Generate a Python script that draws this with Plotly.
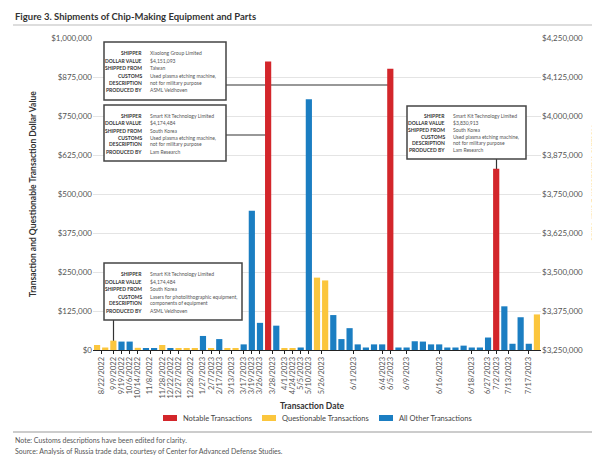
import plotly.graph_objects as go

# ---------------- data ----------------
dates = (["8/22/2022"] * 2 + ["9/9/2022", "9/19/2022", "10/6/2022", "10/14/2022"] + ["11/8/2022"] * 2 +
         ["11/28/2022", "12/22/2022", "12/27/2022"] + ["12/28/2022"] * 2 +
         ["1/27/2023", "2/7/2023", "2/17/2023"] + ["3/13/2023"] * 2 +
         ["3/17/2023", "3/19/2023", "3/26/2023"] + ["3/28/2023"] * 2 +
         ["4/1/2023", "4/24/2023", "5/5/2023", "5/10/2023"] + ["5/26/2023"] * 2 +
         ["6/1/2023"] * 6 + ["6/4/2023", "6/5/2023"] + ["6/9/2023"] * 3 + ["6/16/2023"] * 5 +
         ["6/18/2023"] * 3 + ["6/27/2023", "7/2/2023"] + ["7/13/2023"] * 2 + ["7/17/2023"] * 3)

types = (["Q", "Q", "Q", "O", "O", "Q", "O", "O", "Q", "O", "Q", "Q", "Q", "O", "Q", "O",
          "Q", "Q", "O", "O", "O", "N", "O", "Q", "Q", "O", "O", "Q", "Q"] +
         ["O"] * 7 + ["N"] + ["O"] * 12 + ["N"] + ["O"] * 4 + ["Q"])

values = [16000, 8000, 30000, 27000, 27000, 7000, 6000, 6000, 16000, 6000,
          5000, 5000, 5000, 45000, 6000, 35000, 5000, 5000, 18000, 446000,
          87000, 4174484, 78000, 5000, 5000, 8000, 804000, 232000, 223000, 112000,
          35000, 70000, 18000, 8000, 18000, 18000, 4151093, 8000, 8000, 28000,
          27000, 18000, 18000, 8000, 8000, 14000, 8000, 8000, 40000, 3830913,
          140000, 20000, 105000, 20000, 114000]

left_ticks = [0, 125000, 250000, 375000, 500000, 625000, 750000, 875000, 1000000]
right_ticks = [3250000, 3375000, 3500000, 3625000, 3750000, 3875000, 4000000, 4125000, 4250000]

series_names = {"N": "Notable Transactions", "Q": "Questionable Transactions", "O": "All Other Transactions"}
series_colors = {"N": "#D3262B", "Q": "#FBC63D", "O": "#1B7EC2"}

boxes = [
    dict(px=96, py=34, w=122, h=58,
         rows=[("SHIPPER", "Xiaolong Group Limited"), ("DOLLAR VALUE", "$4,151,093"),
               ("SHIPPED FROM", "Taiwan"), ("CUSTOMS", "Used plasma etching machine,"),
               ("DESCRIPTION", "not for military purpose"), ("PRODUCED BY", "ASML Veldhoven")]),
    dict(px=96, py=97, w=122, h=56,
         rows=[("SHIPPER", "Smart Kit Technology Limited"), ("DOLLAR VALUE", "$4,174,484"),
               ("SHIPPED FROM", "South Korea"), ("CUSTOMS", "Used plasma etching machine,"),
               ("DESCRIPTION", "not for military purpose"), ("PRODUCED BY", "Lam Research")]),
    dict(px=399, py=98, w=119, h=53,
         rows=[("SHIPPER", "Smart Kit Technology Limited"), ("DOLLAR VALUE", "$3,830,913"),
               ("SHIPPED FROM", "South Korea"), ("CUSTOMS", "Used plasma etching machine,"),
               ("DESCRIPTION", "not for military purpose"), ("PRODUCED BY", "Lam Research")]),
    dict(px=96, py=255, w=138, h=57,
         rows=[("SHIPPER", "Smart Kit Technology Limited"), ("DOLLAR VALUE", "$4,174,484"),
               ("SHIPPED FROM", "South Korea"), ("CUSTOMS", "Lasers for photolithographic equipment,"),
               ("DESCRIPTION", "components of equipment"), ("PRODUCED BY", "ASML Veldhoven")]),
]

# ---------------- geometry helpers ----------------
L, R, T, B = 85, 67, 30, 113
W, H = 600, 455
PW, PH = W - L - R, H - T - B


def fx(px):
    return (px - L) / PW


def fy(py):
    return (H - B - py) / PH


def money(v):
    return "$" + format(v, ",d")


FONT = "Lato, Open Sans, sans-serif"

fig = go.Figure()

idx = list(range(len(values)))
for t in ["N", "Q", "O"]:
    xs = [i for i in idx if types[i] == t]
    ys = [values[i] for i in idx if types[i] == t]
    fig.add_trace(go.Bar(
        x=xs, y=ys, name=series_names[t], marker_color=series_colors[t],
        marker_line_width=0, width=0.76, yaxis="y2" if t == "N" else "y",
        showlegend=False))

# tick positions: center of each run of identical dates
tickvals, ticktext = [], []
start = 0
for i in range(1, len(dates) + 1):
    if i == len(dates) or dates[i] != dates[start]:
        tickvals.append((start + i - 1) / 2)
        ticktext.append(dates[start])
        start = i

shapes = []
annotations = []

# annotation boxes
for b in boxes:
    shapes.append(dict(type="rect", xref="paper", yref="paper",
                       x0=fx(b["px"]), x1=fx(b["px"] + b["w"]),
                       y0=fy(b["py"]), y1=fy(b["py"] + b["h"]),
                       line=dict(color="#444", width=1.5), fillcolor="white", layer="above"))
    offs = [10, 17.5, 25, 32.5, 39, 46.5]
    scale = b["h"] / 57.0
    for (lab, val), o in zip(b["rows"], offs):
        yy = fy(b["py"] + o * scale + 1)
        annotations.append(dict(xref="paper", yref="paper", x=fx(b["px"] + 40), y=yy,
                                text="<b>" + lab + "</b>", showarrow=False, xanchor="right",
                                yanchor="middle", font=dict(size=5, color="#333", family=FONT)))
        annotations.append(dict(xref="paper", yref="paper", x=fx(b["px"] + 44), y=yy,
                                text=val, showarrow=False, xanchor="left",
                                yanchor="middle", font=dict(size=5, color="#555", family=FONT)))

# connector lines (drawn between grid and bars)
line_style = dict(color="#333", width=1.2)
shapes.append(dict(type="line", xref="paper", yref="paper", x0=fx(218), x1=fx(383),
                   y0=fy(77), y1=fy(77), line=line_style, layer="between"))
shapes.append(dict(type="line", xref="paper", yref="paper", x0=fx(218), x1=fx(260),
                   y0=fy(127), y1=fy(127), line=line_style, layer="between"))
shapes.append(dict(type="line", xref="paper", yref="paper", x0=fx(488.5), x1=fx(488.5),
                   y0=fy(151), y1=fy(162), line=line_style, layer="between"))
shapes.append(dict(type="line", xref="paper", yref="paper", x0=fx(105.5), x1=fx(105.5),
                   y0=fy(312), y1=fy(333), line=line_style, layer="between"))

# title and separator lines
annotations.append(dict(xref="paper", yref="paper", x=fx(5), y=fy(8), text="<b>Figure 3. Shipments of Chip-Making Equipment and Parts</b>",
                        showarrow=False, xanchor="left", yanchor="middle",
                        font=dict(size=9.5, color="#333", family=FONT)))
shapes.append(dict(type="line", xref="paper", yref="paper", x0=fx(5), x1=fx(600),
                   y0=fy(17), y1=fy(17), line=dict(color="#bbb", width=1)))
shapes.append(dict(type="line", xref="paper", yref="paper", x0=fx(5), x1=fx(600),
                   y0=fy(424), y1=fy(424), line=dict(color="#999", width=1)))

# axis titles
annotations.append(dict(xref="paper", yref="paper", x=fx(25), y=fy(186),
                        text="<b>Transaction and Questionable Transaction Dollar Value</b>",
                        showarrow=False, textangle=-90, xanchor="center", yanchor="middle",
                        font=dict(size=8.5, color="#333", family=FONT)))
annotations.append(dict(xref="paper", yref="paper", x=fx(587), y=fy(175),
                        text="<b>Notable Transaction Dollar Value</b>",
                        showarrow=False, textangle=90, xanchor="center", yanchor="middle",
                        font=dict(size=8, color="#333", family=FONT)))
annotations.append(dict(xref="paper", yref="paper", x=fx(304), y=fy(398),
                        text="<b>Transaction Date</b>", showarrow=False,
                        xanchor="center", yanchor="middle",
                        font=dict(size=8.5, color="#333", family=FONT)))

# legend (manual)
leg = [("N", 155, 173), ("Q", 254, 272), ("O", 371, 389)]
for t, sx, tx in leg:
    shapes.append(dict(type="rect", xref="paper", yref="paper", x0=fx(sx), x1=fx(sx + 14),
                       y0=fy(407), y1=fy(413), fillcolor=series_colors[t], line=dict(width=0)))
    annotations.append(dict(xref="paper", yref="paper", x=fx(tx), y=fy(410),
                            text=series_names[t], showarrow=False, xanchor="left", yanchor="middle",
                            font=dict(size=7.5, color="#444", family=FONT)))

# notes
annotations.append(dict(xref="paper", yref="paper", x=fx(5), y=fy(432),
                        text="Note: Customs descriptions have been edited for clarity.",
                        showarrow=False, xanchor="left", yanchor="middle",
                        font=dict(size=7, color="#555", family=FONT)))
annotations.append(dict(xref="paper", yref="paper", x=fx(5), y=fy(443),
                        text="Source: Analysis of Russia trade data, courtesy of Center for Advanced Defense Studies.",
                        showarrow=False, xanchor="left", yanchor="middle",
                        font=dict(size=7, color="#555", family=FONT)))

fig.update_layout(
    width=W, height=H,
    margin=dict(l=L, r=R, t=T, b=B, autoexpand=False),
    paper_bgcolor="white", plot_bgcolor="white",
    barmode="overlay", showlegend=False,
    font=dict(family=FONT, color="#555"),
    xaxis=dict(range=[-0.5, len(values) - 0.5], tickmode="array", tickvals=tickvals,
               ticktext=ticktext, tickangle=-90, showgrid=False, zeroline=False,
               showline=True, linecolor="#222", linewidth=1, ticks="outside",
               ticklen=3, tickcolor="#222", tickfont=dict(size=7.5, color="#555", family=FONT)),
    yaxis=dict(range=[0, 1000000], tickmode="array", tickvals=left_ticks,
               ticktext=[money(v) for v in left_ticks], showgrid=True, gridcolor="#e4e4e4",
               zeroline=False, showline=False, ticks="",
               tickfont=dict(size=8, color="#555", family=FONT)),
    yaxis2=dict(range=[3250000, 4250000], tickmode="array", tickvals=right_ticks,
                ticktext=[money(v) for v in right_ticks], overlaying="y", side="right",
                showgrid=False, zeroline=False, showline=False, ticks="",
                tickfont=dict(size=8, color="#555", family=FONT)),
    shapes=shapes, annotations=annotations,
)

fig.write_html("out.html")
